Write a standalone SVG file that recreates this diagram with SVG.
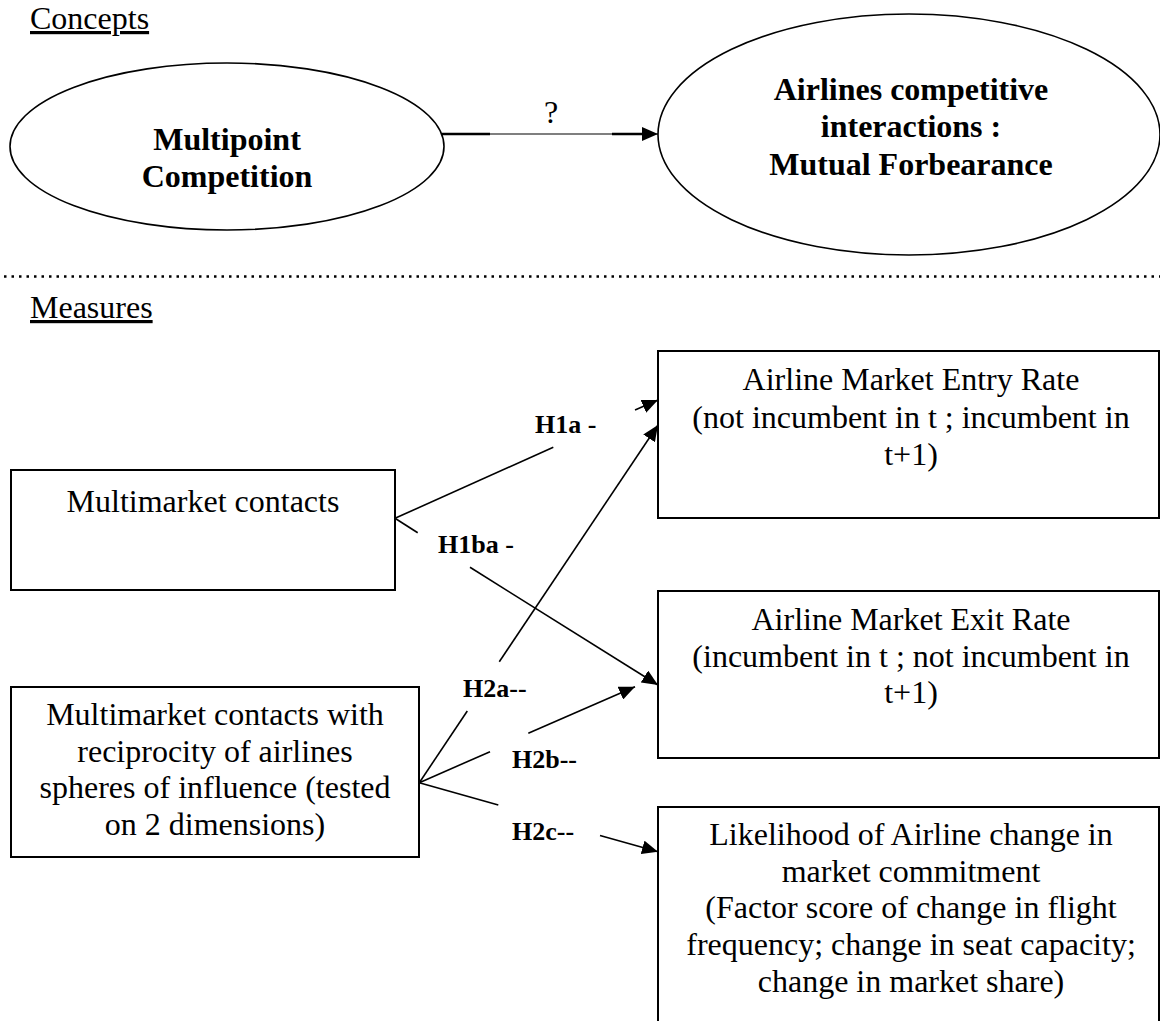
<svg xmlns="http://www.w3.org/2000/svg" width="1160" height="1021" viewBox="0 0 1160 1021">
<defs>
<style>
.t{font-family:"Liberation Serif","Times New Roman",serif;font-size:32px;fill:#000;text-anchor:middle}
.b{font-weight:bold}
.lab{font-family:"Liberation Serif","Times New Roman",serif;font-size:26px;font-weight:bold;fill:#000}
.hd{font-family:"Liberation Serif","Times New Roman",serif;font-size:32px;fill:#000;text-decoration:underline}
.box{fill:#fff;stroke:#000;stroke-width:2}
.ell{fill:#fff;stroke:#000;stroke-width:1.6}
.ln{stroke:#000;stroke-width:1.6;fill:none}
</style>
<marker id="ah" markerUnits="userSpaceOnUse" markerWidth="18" markerHeight="14" refX="16" refY="7" orient="auto">
<path d="M0,0 L16,7 L0,14 Z" fill="#000"/>
</marker>
</defs>
<rect width="1160" height="1021" fill="#fff"/>
<text class="hd" x="30" y="29">Concepts</text>
<text class="hd" x="30" y="318">Measures</text>
<line x1="4" y1="276.5" x2="1160" y2="276.5" stroke="#000" stroke-width="2.5" stroke-dasharray="2.5 5"/>

<g id="multipoint">
<ellipse class="ell" cx="227" cy="146.5" rx="217" ry="83.5"/>
<text class="t b" x="227" y="150">Multipoint</text>
<text class="t b" x="227" y="187">Competition</text>
</g>
<g id="forbearance">
<ellipse class="ell" cx="909" cy="134.5" rx="251" ry="120.5"/>
<text class="t b" x="911" y="100">Airlines competitive</text>
<text class="t b" x="911" y="137">interactions :</text>
<text class="t b" x="911" y="175">Mutual Forbearance</text>
</g>
<g id="mmc">
<rect class="box" x="11" y="470" width="384" height="120"/>
<text class="t" x="203" y="512">Multimarket contacts</text>
</g>
<g id="mmc-recip">
<rect class="box" x="11" y="687" width="408" height="170"/>
<text class="t" x="215" y="725">Multimarket contacts with</text>
<text class="t" x="215" y="761.7">reciprocity of airlines</text>
<text class="t" x="215" y="798.3">spheres of influence (tested</text>
<text class="t" x="215" y="835">on 2 dimensions)</text>
</g>
<g id="entry">
<rect class="box" x="658" y="351" width="501" height="167"/>
<text class="t" x="911" y="390">Airline Market Entry Rate</text>
<text class="t" x="911" y="428">(not incumbent in t ; incumbent in</text>
<text class="t" x="911" y="465">t+1)</text>
</g>
<g id="exit">
<rect class="box" x="658" y="591" width="501" height="167"/>
<text class="t" x="911" y="630">Airline Market Exit Rate</text>
<text class="t" x="911" y="667">(incumbent in t ; not incumbent in</text>
<text class="t" x="911" y="703">t+1)</text>
</g>
<g id="commitment">
<rect class="box" x="658" y="807" width="501" height="230"/>
<text class="t" x="911" y="845">Likelihood of Airline change in</text>
<text class="t" x="911" y="882">market commitment</text>
<text class="t" x="911" y="918">(Factor score of change in flight</text>
<text class="t" x="911" y="955">frequency; change in seat capacity;</text>
<text class="t" x="911" y="992">change in market share)</text>
</g>

<g id="connectors">
<line x1="442" y1="134" x2="658" y2="134" stroke="#000" stroke-width="1.2" marker-end="url(#ah)"/>
<line x1="442" y1="134" x2="490" y2="134" stroke="#000" stroke-width="2.6"/>
<line x1="612" y1="134" x2="645" y2="134" stroke="#000" stroke-width="2.6"/>
<text class="t" x="551" y="123">?</text>

<line class="ln" x1="395" y1="518.3" x2="553.3" y2="447.3"/>
<line class="ln" x1="635" y1="410" x2="658" y2="400" marker-end="url(#ah)"/>
<line class="ln" x1="395" y1="518.3" x2="417.7" y2="532.7"/>
<line class="ln" x1="470" y1="567.3" x2="658" y2="685" marker-end="url(#ah)"/>
<line class="ln" x1="419.3" y1="782.7" x2="467.3" y2="711"/>
<line class="ln" x1="499.3" y1="661.7" x2="658" y2="425" marker-end="url(#ah)"/>
<line class="ln" x1="419.3" y1="782.7" x2="490" y2="751.7"/>
<line class="ln" x1="528.3" y1="733.3" x2="635" y2="686.7" marker-end="url(#ah)"/>
<line class="ln" x1="419.3" y1="782.7" x2="498.3" y2="805"/>
<line class="ln" x1="600" y1="835.5" x2="658" y2="851.7" marker-end="url(#ah)"/>

<text class="lab" x="535" y="433">H1a -</text>
<text class="lab" x="438" y="553">H1ba -</text>
<text class="lab" x="463" y="697">H2a--</text>
<text class="lab" x="512" y="768">H2b--</text>
<text class="lab" x="512" y="840">H2c--</text>
</g>
</svg>
